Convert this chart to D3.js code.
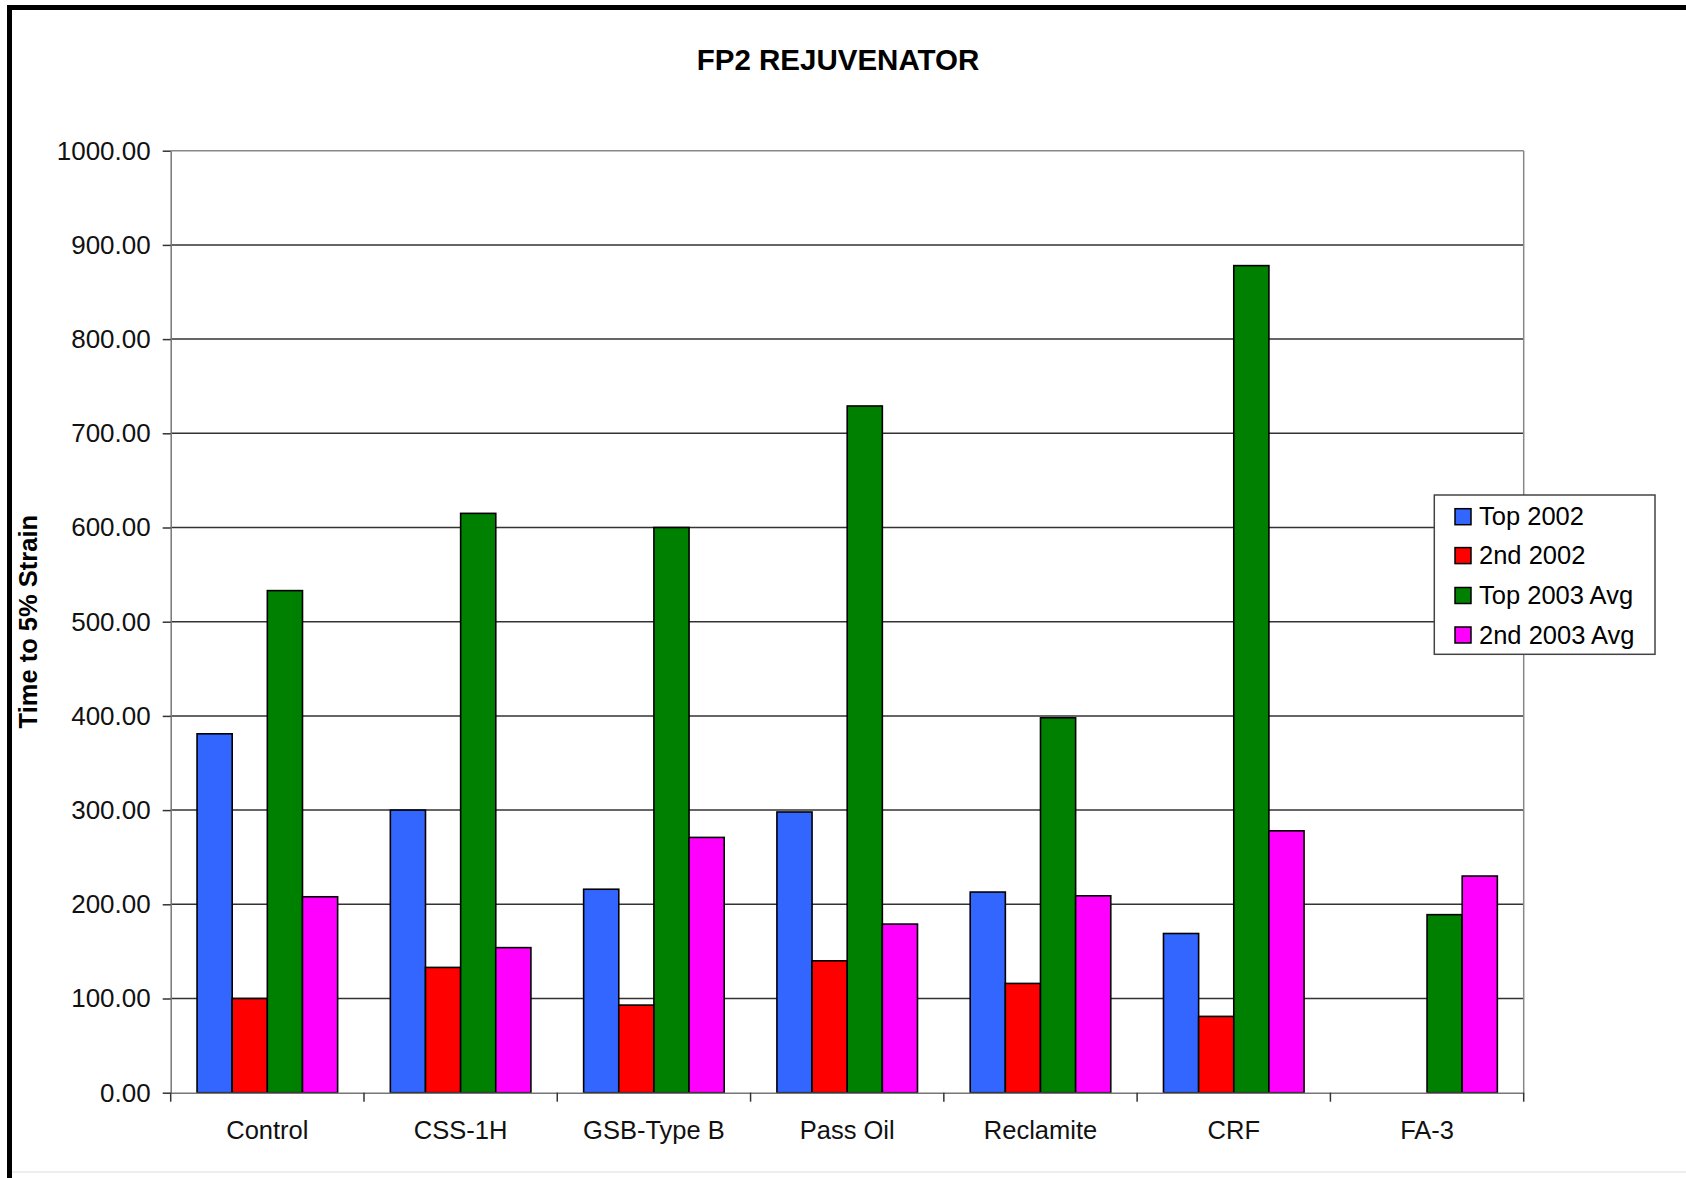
<!DOCTYPE html>
<html>
<head>
<meta charset="utf-8">
<script src="https://cdn.jsdelivr.net/npm/d3@7"></script>
<style>
  html, body { margin: 0; padding: 0; background: #fff; }
  svg { display: block; font-family: "Liberation Sans", Arial, sans-serif; }
</style>
</head>
<body>
<svg id="chart" width="1686" height="1178"></svg>
<script>
const categories = ["Control", "CSS-1H", "GSB-Type B", "Pass Oil", "Reclamite", "CRF", "FA-3"];
const seriesNames = ["Top 2002", "2nd 2002", "Top 2003 Avg", "2nd 2003 Avg"];
const top2002 = [381, 300, 216, 298, 213, 169, null];
const second2002 = [100, 133, 93, 140, 116, 81, null];
const top2003Avg = [533, 615, 600, 729, 398, 878, 189];
const second2003Avg = [208, 154, 271, 179, 209, 278, 230];
const seriesColors = ["#3366FF", "#FF0000", "#008000", "#FF00FF"];
const yTicks = [0, 100, 200, 300, 400, 500, 600, 700, 800, 900, 1000];

const seriesValues = [top2002, second2002, top2003Avg, second2003Avg];

const svg = d3.select("#chart");
const W = 1686, H = 1178;
const plot = { left: 170.7, right: 1523.7, top: 150.7, bottom: 1092.7 };

svg.append("rect").attr("width", W).attr("height", H).attr("fill", "#fff");

// outer frame (only left/top visible in crop)
svg.append("rect")
  .attr("x", 9.5).attr("y", 7.5)
  .attr("width", W + 50).attr("height", H + 50)
  .attr("fill", "none").attr("stroke", "#000").attr("stroke-width", 5);
// faint bottom line
svg.append("line").attr("x1", 12).attr("x2", W).attr("y1", 1172).attr("y2", 1172)
  .attr("stroke", "#eee").attr("stroke-width", 2);

const x0 = d3.scaleBand().domain(categories).range([plot.left, plot.right]).padding(0);
const x1 = d3.scaleBand().domain(d3.range(4)).range([0, x0.bandwidth()])
  .paddingInner(0).paddingOuter(0.75);
const y = d3.scaleLinear().domain([0, 1000]).range([plot.bottom, plot.top]);

// gridlines
svg.append("g").selectAll("line").data(yTicks.filter(t => t > 0)).join("line")
  .attr("x1", plot.left).attr("x2", plot.right)
  .attr("y1", d => y(d)).attr("y2", d => y(d))
  .attr("stroke", d => d === 1000 ? "#888" : "#333").attr("stroke-width", 1.5);

// right border of plot
svg.append("line").attr("x1", plot.right).attr("x2", plot.right)
  .attr("y1", plot.top).attr("y2", plot.bottom)
  .attr("stroke", "#888").attr("stroke-width", 1.5);

// bars
const data = [];
categories.forEach((c, i) => {
  seriesValues.forEach((arr, s) => {
    if (arr[i] != null) data.push({ c, s, v: arr[i] });
  });
});
svg.append("g").selectAll("rect").data(data).join("rect")
  .attr("x", d => x0(d.c) + x1(d.s))
  .attr("y", d => y(d.v))
  .attr("width", x1.bandwidth())
  .attr("height", d => y(0) - y(d.v))
  .attr("fill", d => seriesColors[d.s])
  .attr("stroke", "#000").attr("stroke-width", 1.6);

// y axis
const yAxis = d3.axisLeft(y).tickValues(yTicks).tickFormat(d3.format(".2f")).tickSizeInner(8).tickSizeOuter(0).tickPadding(12);
const ya = svg.append("g").attr("transform", `translate(${plot.left},0)`).call(yAxis);
ya.select(".domain").attr("stroke", "#777").attr("stroke-width", 1.5);
ya.selectAll(".tick line").attr("stroke", "#333").attr("stroke-width", 1.5);
ya.selectAll(".tick text").attr("font-size", 26).attr("fill", "#111")
  .attr("font-family", "Liberation Sans, Arial, sans-serif");

// x axis
const xAxis = d3.axisBottom(x0).tickSize(0).tickPadding(28);
const xa = svg.append("g").attr("transform", `translate(0,${plot.bottom})`).call(xAxis);
xa.select(".domain").attr("stroke", "#777").attr("stroke-width", 1.5);
xa.selectAll(".tick text").attr("font-size", 25.5).attr("fill", "#111")
  .attr("font-family", "Liberation Sans, Arial, sans-serif");
// category boundary ticks
const bounds = categories.map(c => x0(c)).concat([plot.right]);
svg.append("g").selectAll("line").data(bounds).join("line")
  .attr("x1", d => d).attr("x2", d => d)
  .attr("y1", plot.bottom).attr("y2", plot.bottom + 9)
  .attr("stroke", "#333").attr("stroke-width", 1.5);

// title
svg.append("text").attr("x", 838).attr("y", 70).attr("text-anchor", "middle")
  .attr("font-size", 29.5).attr("font-weight", "bold").attr("fill", "#000")
  .text("FP2 REJUVENATOR");

// y label
svg.append("text").attr("transform", `translate(37,${(plot.top + plot.bottom) / 2}) rotate(-90)`)
  .attr("text-anchor", "middle").attr("font-size", 25.5).attr("font-weight", "bold").attr("fill", "#000")
  .text("Time to 5% Strain");

// legend
const lg = svg.append("g");
lg.append("rect").attr("x", 1434.3).attr("y", 495).attr("width", 220.7).attr("height", 159.3)
  .attr("fill", "#fff").attr("stroke", "#444").attr("stroke-width", 1.5);
const rowY = [516.7, 555.6, 595.5, 635];
seriesNames.forEach((n, i) => {
  lg.append("rect").attr("x", 1455).attr("y", rowY[i] - 8).attr("width", 16).attr("height", 16)
    .attr("fill", seriesColors[i]).attr("stroke", "#000").attr("stroke-width", 1.5);
  lg.append("text").attr("x", 1479).attr("y", rowY[i] + 8.5)
    .attr("font-size", 25.5).attr("fill", "#000").text(n);
});
</script>
</body>
</html>
